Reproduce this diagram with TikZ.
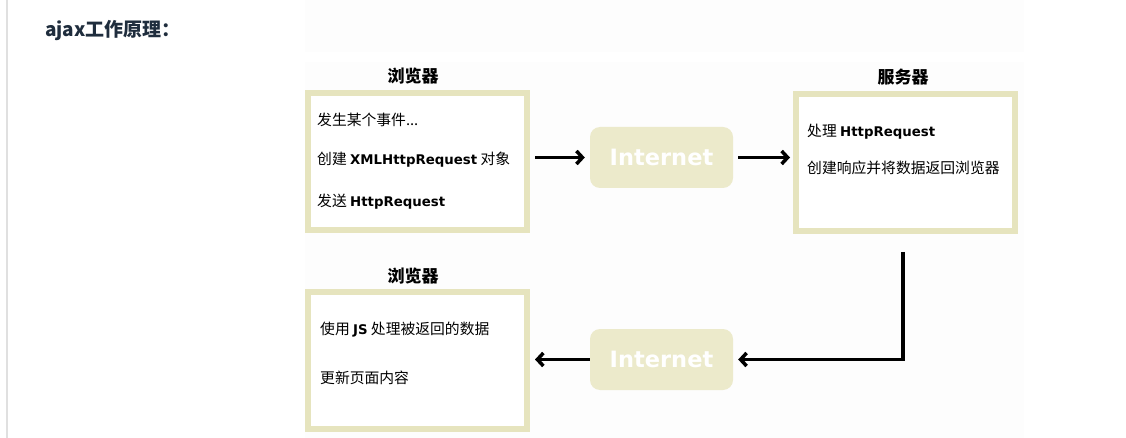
\documentclass[tikz,border=0pt]{standalone}
\usepackage{fontspec}
\setmainfont{Noto Sans CJK SC}
\newfontfamily\verd[Scale=0.9]{DejaVu Sans}
\usetikzlibrary{calc}
\usetikzlibrary{arrows.meta}
\definecolor{frameC}{RGB}{230,228,190}
\definecolor{netC}{RGB}{236,234,203}
\definecolor{titleC}{RGB}{31,45,61}
\newcommand{\lat}[1]{{\verd\bfseries #1}}

\begin{document}
\begin{tikzpicture}[x=1pt, y=-1pt,
  box/.style={draw=frameC, line width=6pt, fill=white, minimum width=219pt, minimum height=137pt, inner sep=0},
  net/.style={fill=netC, rounded corners=10pt, minimum width=143pt, minimum height=61pt, text=white, font=\verd\bfseries\fontsize{25}{28}\selectfont},
  head/.style={font=\bfseries\fontsize{17}{20}\selectfont},
  txt/.style={anchor=west, inner sep=0, font=\fontsize{14.8}{17}\selectfont},
  arr/.style={line width=3.5pt, -{Straight Barb[length=6pt,width=13pt]}}]
\useasboundingbox[fill=white] (0,0) rectangle (1126,438);
\fill[black!0.7] (305,0) rectangle (1024,52);
\fill[black!0.7] (305,62) rectangle (1024,438);
\draw[black!12, line width=1.2pt] (7,0)--(7,438);
\node[anchor=west, inner sep=0, text=titleC, font=\bfseries\fontsize{19}{22}\selectfont] (title) at (45,31) {ajax工作原理：};
\foreach \n/\x/\y in {br1/417.5/161.5, srv/905.5/162.5, br2/417.5/360} {
 \node[box] (\n) at (\x,\y) {};
}
\foreach \n/\y in {net1/157.5, net2/359.5} {
 \node[net] (\n) at (661.5,\y) {Internet};
}
\node[head] (br1h) at (413,76) {浏览器};
\node[head] (srvh) at (903,77) {服务器};
\node[head] (br2h) at (413,276) {浏览器};
\node[txt] (t11) at (317,120) {发生某个事件...};
\node[txt] (t12) at (317,160) {创建 \lat{XMLHttpRequest} 对象};
\node[txt] (t13) at (317,202) {发送 \lat{HttpRequest}};
\node[txt] (t21) at (807,132) {处理 \lat{HttpRequest}};
\node[txt] (t22) at (807,168) {创建响应并将数据返回浏览器};
\node[txt] (t31) at (320,330) {使用 \lat{JS} 处理被返回的数据};
\node[txt] (t32) at (320,378) {更新页面内容};
\draw[arr, shorten <=5pt, shorten >=5pt] (br1.east |- net1) -- (net1.west);
\draw[arr, shorten <=5pt, shorten >=3pt] (net1.east) -- (srv.west |- net1);
\draw[arr, shorten >=5pt] ([xshift=-2.5pt, yshift=-18pt]srv.south) |- (net2.east);
\draw[arr, shorten >=5pt] (net2.west) -- (br2.east |- net2);
\end{tikzpicture}
\end{document}
